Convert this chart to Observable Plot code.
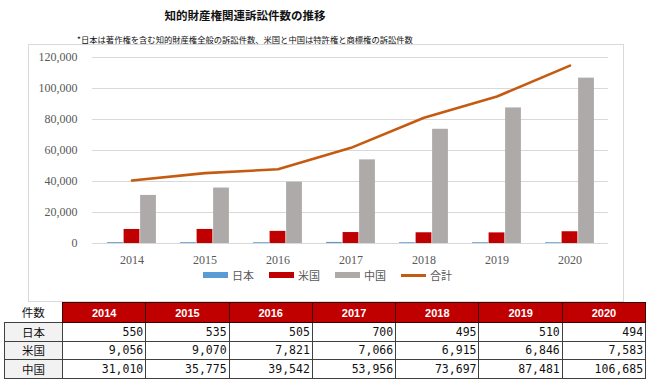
<!DOCTYPE html>
<html>
<head>
<meta charset="utf-8">
<script src="https://cdn.jsdelivr.net/npm/d3@7"></script>
<script src="https://cdn.jsdelivr.net/npm/@observablehq/plot@0.6"></script>
<style>
  html, body { margin: 0; padding: 0; background: #fff; }
  #page { position: relative; width: 650px; height: 381px; overflow: hidden; font-family: "Noto Sans CJK JP", sans-serif; }
  #title { position: absolute; left: 0; width: 490px; top: 6px; text-align: center; font-size: 11.5px; font-weight: bold; line-height: 18px; color: #111; }
  #subtitle { position: absolute; left: 0; width: 490px; top: 33px; text-align: center; font-size: 8.3px; line-height: 12px; color: #111; }
  #frame { position: absolute; left: 28px; top: 44px; width: 594px; height: 256px; border: 1px solid #d9d9d9; }
  #chart { position: absolute; left: 0; top: 44px; }
  #legend { position: absolute; left: 203px; top: 267px; display: flex; align-items: center; font-size: 11px; color: #595959; line-height: 16px; }
  #legend .item { display: flex; align-items: center; margin-right: 15px; }
  #legend .sw { width: 25px; margin-right: 4px; }
  #tbl { position: absolute; left: 4px; top: 302px; border-collapse: collapse; table-layout: fixed; }
  #tbl td, #tbl th { padding: 0; overflow: hidden; white-space: nowrap; }
  #tbl th.yr { background: #c00000; color: #fff; font-family: "Liberation Sans", Arial, sans-serif; font-weight: bold; font-size: 11px; height: 19px; border: 1px solid #3a0000; text-align: center; }
  #tbl th.corner { font-weight: normal; font-size: 11.5px; color: #111; text-align: center; border: none; }
  #tbl td.lab { background: #f2f2f2; text-align: center; font-size: 11.5px; color: #111; border: 1px solid #404040; height: 17.5px; }
  #tbl td.num { text-align: right; font-family: "DejaVu Sans Mono", monospace; font-size: 11.5px; color: #111; border: 1px solid #404040; padding-right: 2px; }
</style>
</head>
<body>
<div id="page">
  <div id="title"></div>
  <div id="subtitle"></div>
  <div id="frame"></div>
  <div id="chart"></div>
  <div id="legend"></div>
  <table id="tbl"></table>
</div>
<script>
// ---- data ----
const titleText = "知的財産権関連訴訟件数の推移";
const subtitleText = "*日本は著作権を含む知的財産権全般の訴訟件数、米国と中国は特許権と商標権の訴訟件数";
const years = ["2014", "2015", "2016", "2017", "2018", "2019", "2020"];
const japan = [550, 535, 505, 700, 495, 510, 494];
const usa = [9056, 9070, 7821, 7066, 6915, 6846, 7583];
const china = [31010, 35775, 39542, 53956, 73697, 87481, 106685];
const total = [40616, 45380, 47868, 61722, 81107, 94837, 114762];
const yTicks = [0, 20000, 40000, 60000, 80000, 100000, 120000];
const seriesNames = ["日本", "米国", "中国", "合計"];
const tableCorner = "件数";

const colors = { "日本": "#5b9bd5", "米国": "#c00000", "中国": "#aeaaaa", "合計": "#c55a11" };

document.getElementById("title").textContent = titleText;
document.getElementById("subtitle").textContent = subtitleText;

// ---- chart ----
const W = 650, H = 230, ML = 92, MR = 42;
const bw = (W - ML - MR) / years.length;
const barW = bw * 0.224;
const g0 = (bw - 3 * barW) / 2;
const barSeries = [["日本", japan], ["米国", usa], ["中国", china]];

const barMarks = barSeries.map(([name, vals], i) =>
  Plot.barY(years.map((y, j) => ({ year: y, value: vals[j] })), {
    x: "year", y: "value", fill: colors[name],
    insetLeft: g0 + i * barW, insetRight: bw - (g0 + (i + 1) * barW)
  })
);

const chart = Plot.plot({
  width: W, height: H,
  marginLeft: ML, marginRight: MR, marginTop: 13, marginBottom: 31,
  style: { fontFamily: "'Liberation Serif', serif", fontSize: "12px", color: "#595959", background: "transparent", overflow: "visible" },
  x: { type: "band", domain: years, padding: 0, label: null, tickSize: 0, tickPadding: 12 },
  y: { domain: [0, 120000], ticks: yTicks, tickFormat: d3.format(","), label: null, tickSize: 0, tickPadding: 15 },
  marks: [
    Plot.ruleY(yTicks, { stroke: "#d9d9d9", strokeWidth: 1 }),
    ...barMarks,
    Plot.lineY(years.map((y, j) => ({ year: y, value: total[j] })), {
      x: "year", y: "value", stroke: colors["合計"], strokeWidth: 2.6
    })
  ]
});
document.getElementById("chart").appendChild(chart);

// ---- legend ----
const legend = document.getElementById("legend");
seriesNames.forEach(name => {
  const item = document.createElement("div");
  item.className = "item";
  const sw = document.createElement("div");
  sw.className = "sw";
  sw.style.background = colors[name];
  sw.style.height = name === "合計" ? "3px" : "6px";
  const t = document.createElement("span");
  t.textContent = name;
  item.appendChild(sw); item.appendChild(t);
  legend.appendChild(item);
});

// ---- table ----
const tbl = document.getElementById("tbl");
const colg = document.createElement("colgroup");
const c0 = document.createElement("col"); c0.style.width = "58px"; colg.appendChild(c0);
years.forEach(() => { const c = document.createElement("col"); c.style.width = "83.3px"; colg.appendChild(c); });
tbl.appendChild(colg);
const fmt = d3.format(",");
const hr = document.createElement("tr");
const corner = document.createElement("th"); corner.className = "corner"; corner.textContent = tableCorner; hr.appendChild(corner);
years.forEach(y => { const th = document.createElement("th"); th.className = "yr"; th.textContent = y; hr.appendChild(th); });
tbl.appendChild(hr);
barSeries.forEach(([name, vals]) => {
  const tr = document.createElement("tr");
  const l = document.createElement("td"); l.className = "lab"; l.textContent = name; tr.appendChild(l);
  vals.forEach(v => { const td = document.createElement("td"); td.className = "num"; td.textContent = fmt(v); tr.appendChild(td); });
  tbl.appendChild(tr);
});
</script>
</body>
</html>
